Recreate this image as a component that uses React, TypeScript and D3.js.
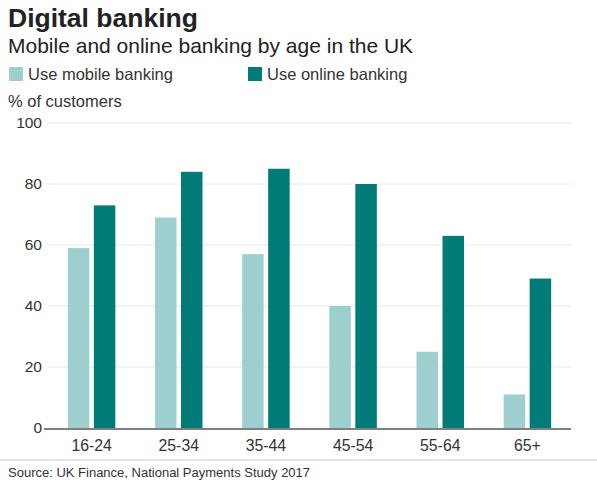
import { useMemo } from 'react'
import * as d3 from 'd3'

const AGE_GROUPS = ['16-24', '25-34', '35-44', '45-54', '55-64', '65+']
const MOBILE = [59, 69, 57, 40, 25, 11]
const ONLINE = [73, 84, 85, 80, 63, 49]
const Y_TICKS = [0, 20, 40, 60, 80, 100]

const SERIES = [
  { key: 'mobile', label: 'Use mobile banking', color: '#9dcfcf', values: MOBILE },
  { key: 'online', label: 'Use online banking', color: '#007b77', values: ONLINE },
]

const W = 597
const H = 485
const FONT = '"Liberation Sans", Arial, Helvetica, sans-serif'

export default function App() {
  const margin = { l: 47, r: 27 }

  const x = useMemo(
    () => d3.scaleBand().domain(AGE_GROUPS).range([48, 571]).paddingInner(0).paddingOuter(0),
    []
  )
  const y = useMemo(() => d3.scaleLinear().domain([0, 100]).range([428, 123]), [])

  const barW = 21.5
  const gap = 4.5

  return (
    <svg
      width={W}
      height={H}
      style={{ position: 'absolute', left: 0, top: 0, background: '#fff' }}
      fontFamily={FONT}
    >
      {/* Titles */}
      <text x={8} y={27} fontSize={26.5} fontWeight="bold" fill="#222">
        Digital banking
      </text>
      <text x={8} y={53} fontSize={21} fill="#222">
        Mobile and online banking by age in the UK
      </text>

      {/* Legend */}
      {SERIES.map((s, i) => {
        const lx = i === 0 ? 9 : 248
        return (
          <g key={s.key}>
            <rect x={lx} y={67} width={14} height={14} fill={s.color} />
            <text x={lx + 19} y={80} fontSize={16.5} fill="#333">
              {s.label}
            </text>
          </g>
        )
      })}

      <text x={8} y={107} fontSize={16.5} fill="#333">
        % of customers
      </text>

      {/* Gridlines + y labels */}
      {Y_TICKS.map(t => (
        <g key={t}>
          {t !== 0 && (
            <line x1={margin.l} x2={W - margin.r + 1} y1={y(t)} y2={y(t)} stroke="#e6e6e6" strokeWidth={1} />
          )}
          <text x={42} y={y(t) + 5} fontSize={15.5} fill="#333" textAnchor="end">
            {t}
          </text>
        </g>
      ))}

      {/* Bars */}
      {AGE_GROUPS.map((g, i) => {
        const cx = (x(g) ?? 0) + x.bandwidth() / 2
        return (
          <g key={g}>
            <rect
              x={cx - gap / 2 - barW}
              y={y(MOBILE[i])}
              width={barW}
              height={y(0) - y(MOBILE[i])}
              fill={SERIES[0].color}
            />
            <rect
              x={cx + gap / 2}
              y={y(ONLINE[i])}
              width={barW}
              height={y(0) - y(ONLINE[i])}
              fill={SERIES[1].color}
            />
            <text x={cx} y={451} fontSize={15.8} fill="#333" textAnchor="middle">
              {g}
            </text>
          </g>
        )
      })}

      {/* Zero axis */}
      <line x1={44} x2={571} y1={y(0) + 1} y2={y(0) + 1} stroke="#555" strokeWidth={1.5} />

      {/* Source */}
      <line x1={0} x2={W} y1={460} y2={460} stroke="#ccc" strokeWidth={1} />
      <text x={8} y={477} fontSize={13} fill="#333">
        Source: UK Finance, National Payments Study 2017
      </text>
    </svg>
  )
}
